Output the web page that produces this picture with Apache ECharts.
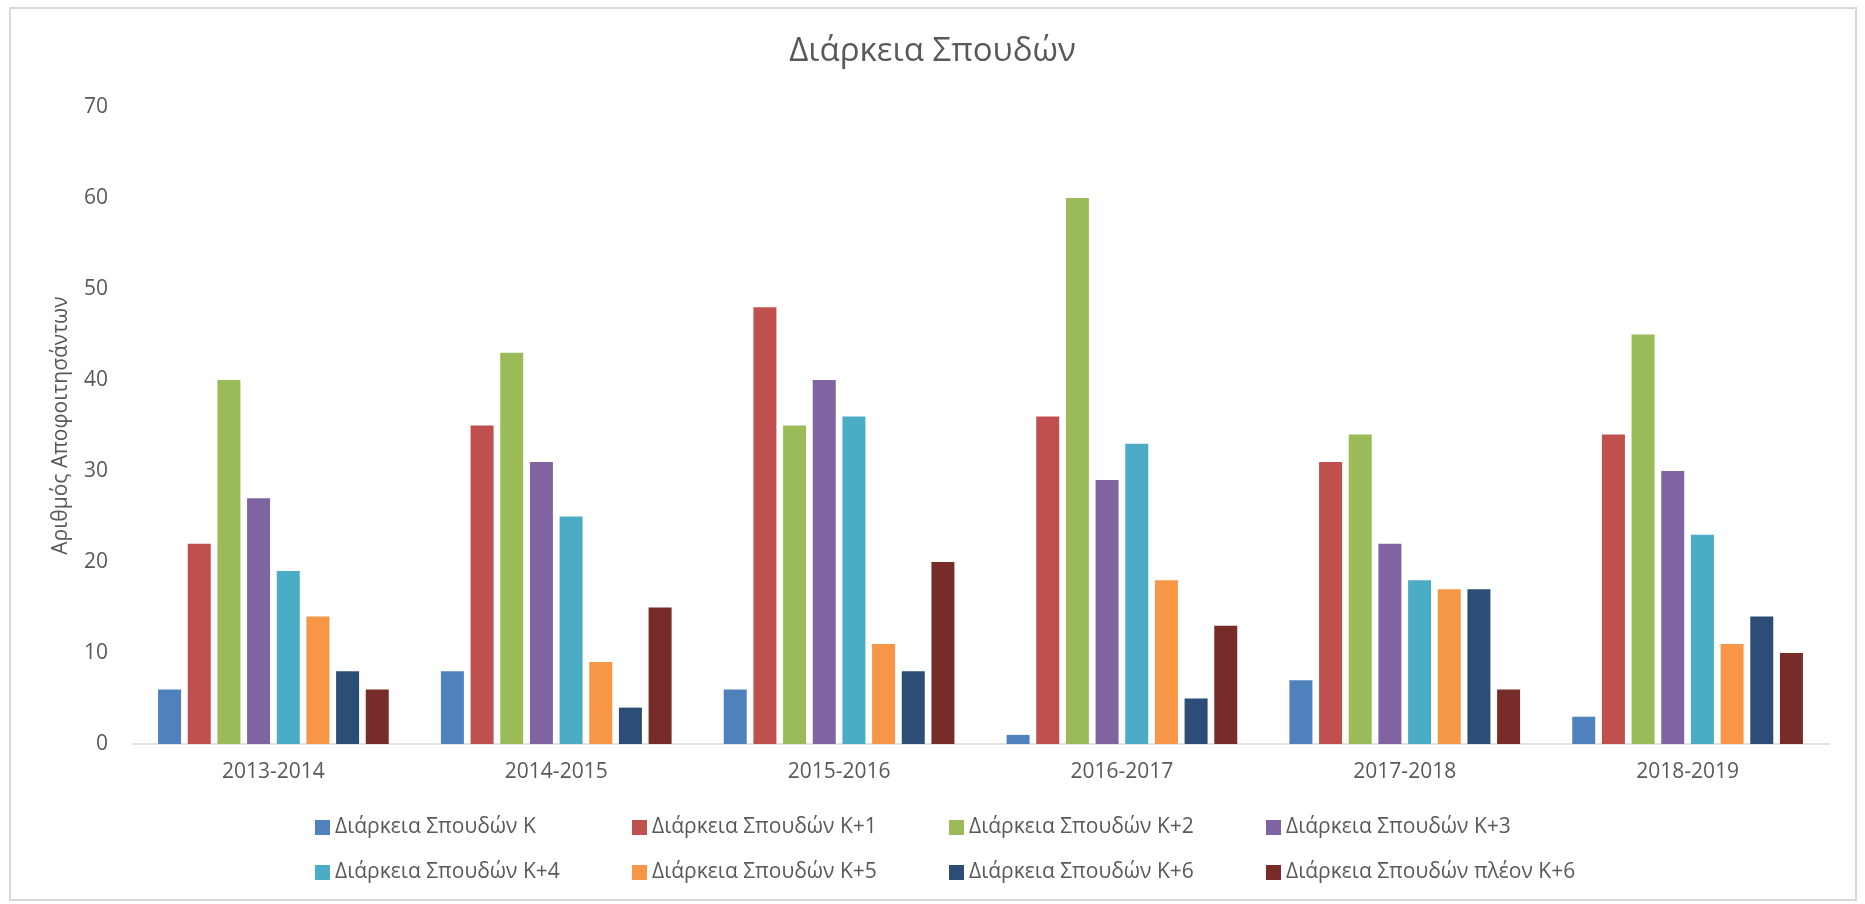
<!DOCTYPE html>
<html>
<head>
<meta charset="utf-8">
<script src="https://cdn.jsdelivr.net/npm/echarts@6/dist/echarts.min.js"></script>
<style>
  html, body { margin: 0; padding: 0; background: #fff; }
  #main { width: 1865px; height: 904px; }
</style>
</head>
<body>
<div id="main"></div>
<script>
// ακαδημαϊκά έτη
const years = ['2013-2014', '2014-2015', '2015-2016', '2016-2017', '2017-2018', '2018-2019'];

const seriesNames = [
  'Διάρκεια Σπουδών Κ',
  'Διάρκεια Σπουδών Κ+1',
  'Διάρκεια Σπουδών Κ+2',
  'Διάρκεια Σπουδών Κ+3',
  'Διάρκεια Σπουδών Κ+4',
  'Διάρκεια Σπουδών Κ+5',
  'Διάρκεια Σπουδών Κ+6',
  'Διάρκεια Σπουδών πλέον Κ+6'
];

// τιμές ανά σειρά (μία τιμή για κάθε έτος)
const durK      = [6, 8, 6, 1, 7, 3];
const durK1     = [22, 35, 48, 36, 31, 34];
const durK2     = [40, 43, 35, 60, 34, 45];
const durK3     = [27, 31, 40, 29, 22, 30];
const durK4     = [19, 25, 36, 33, 18, 23];
const durK5     = [14, 9, 11, 18, 17, 11];
const durK6     = [8, 4, 8, 5, 17, 14];
const durOverK6 = [6, 15, 20, 13, 6, 10];

const yTicks = [0, 10, 20, 30, 40, 50, 60, 70];

const colors = ['#4F81BD', '#C0504D', '#9BBB59', '#8064A2', '#4BACC6', '#F79646', '#2C4D75', '#772C2A'];
const allData = [durK, durK1, durK2, durK3, durK4, durK5, durK6, durOverK6];

const chart = echarts.init(document.getElementById('main'));

const options = {
  animation: false,
  color: colors,
  title: {
    text: 'Διάρκεια Σπουδών',
    left: 'center',
    top: 30,
    textStyle: {
      fontFamily: 'Open Sans',
      fontWeight: 'normal',
      fontSize: 33,
      color: '#595959'
    }
  },
  legend: {
    data: seriesNames,
    left: 315,
    top: 810,
    padding: 0,
    width: 1290,
    itemWidth: 15,
    itemHeight: 15,
    itemGap: 10,
    icon: 'rect',
    formatter: (name) => '{t|' + name + '}',
    textStyle: {
      rich: {
        t: {
          fontFamily: 'Open Sans',
          fontSize: 21,
          color: '#595959',
          width: 287,
          height: 35,
          lineHeight: 35
        }
      }
    }
  },
  grid: {
    left: 132,
    right: 36,
    top: 107,
    bottom: 160,
    containLabel: false
  },
  xAxis: {
    type: 'category',
    data: years,
    axisTick: { show: false },
    axisLine: { lineStyle: { color: '#d9d9d9', width: 1.5 } },
    axisLabel: {
      fontFamily: 'Open Sans',
      fontSize: 21,
      color: '#595959',
      margin: 18
    }
  },
  yAxis: {
    type: 'value',
    min: yTicks[0],
    max: yTicks[yTicks.length - 1],
    interval: 10,
    name: 'Αριθμός Αποφοιτησάντων',
    nameLocation: 'middle',
    nameGap: 60,
    nameTextStyle: {
      fontFamily: 'Open Sans',
      fontSize: 21,
      color: '#595959'
    },
    splitLine: { show: false },
    axisLine: { show: false },
    axisTick: { show: false },
    axisLabel: {
      fontFamily: 'Open Sans',
      fontSize: 21,
      color: '#595959',
      margin: 24
    }
  },
  series: seriesNames.map((name, i) => ({
    name,
    type: 'bar',
    data: allData[i],
    barWidth: 23,
    barGap: '29%'
  })),
  graphic: [
    {
      type: 'rect',
      shape: { x: 10, y: 8, width: 1846, height: 892 },
      style: { fill: 'none', stroke: '#d9d9d9', lineWidth: 2 },
      silent: true
    }
  ]
};

chart.setOption(options);
</script>
</body>
</html>
